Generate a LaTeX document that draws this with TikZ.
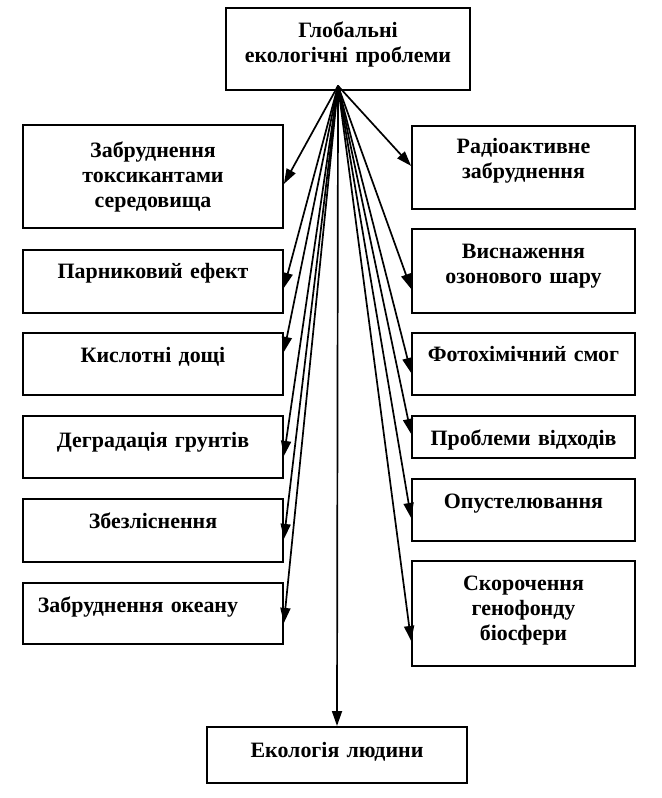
\documentclass[tikz,border=0pt]{standalone}
\usepackage{fontspec}
\setmainfont{Liberation Serif}
\usetikzlibrary{arrows.meta}

\begin{document}
\begin{tikzpicture}[x=1bp, y=-1bp,
  box/.style={draw, line width=1.8bp, anchor=north, inner sep=0pt, align=center,
    font=\fontsize{22}{25}\selectfont\bfseries},
  lbox/.style={box, text width=260bp},
  rbox/.style={box, text width=223bp},
  arr/.style={line width=1.7bp, -{Triangle[length=15bp,width=10bp]}}]
  \useasboundingbox (0,0) rectangle (662,798);

  % top box and the point all arrows start from
  \node[box, text width=244bp, text height=30bp, text depth=52bp] (glob) at (348,7)
    {Глобальні\\екологічні проблеми};
  \coordinate (hub) at ([xshift=-10bp, yshift=5bp]glob.south);

  % left column
  \node[lbox, text height=33bp, text depth=70bp] (tox) at (153,124)
    {Забруднення\\токсикантами\\середовища};
  \node[lbox, text height=29bp, text depth=34bp] (parn) at (153,249) {Парниковий ефект};
  \node[lbox, text height=30bp, text depth=32bp] (kysl) at (153,332) {Кислотні дощі};
  \node[lbox, text height=32bp, text depth=30bp] (degr) at (153,415) {Деградація грунтів};
  \node[lbox, text height=30bp, text depth=33bp] (lis) at (153,498) {Збезліснення};
  \node[lbox, text height=30bp, text depth=31bp] (okean) at (153,582)
    {\hspace*{-30bp}Забруднення океану};

  % right column
  \node[rbox, text height=28bp, text depth=55bp] (rad) at (523.5,125)
    {Радіоактивне\\забруднення};
  \node[rbox, text height=30bp, text depth=54bp] (ozon) at (523.5,228)
    {Виснаження\\озонового шару};
  \node[rbox, text height=29bp, text depth=33bp] (smog) at (523.5,332) {Фотохімічний смог};
  \node[rbox, text height=30bp, text depth=12bp] (vidh) at (523.5,415) {Проблеми відходів};
  \node[rbox, text height=30bp, text depth=32bp] (pust) at (523.5,478) {Опустелювання};
  \node[rbox, text height=30bp, text depth=75bp] (gen) at (523.5,560)
    {Скорочення\\генофонду\\біосфери};

  % bottom box
  \node[lbox, text height=31bp, text depth=25bp] (lud) at (337,726) {Екологія людини};

  % arrows to the left
  \draw[arr] (hub) -- ([yshift=-7.5bp]tox.east);
  \draw[arr] (hub) -- ([yshift=-6.5bp]parn.east);
  \draw[arr] (hub) -- ([yshift=12bp]kysl.east);
  \draw[arr] (hub) -- ([yshift=-9bp]degr.east);
  \draw[arr] (hub) -- ([yshift=-8.5bp]lis.east);
  \draw[arr] (hub) -- ([yshift=-9.5bp]okean.east);

  % arrows to the right
  \draw[arr] (hub) -- ([yshift=1.5bp]rad.west);
  \draw[arr] (hub) -- ([yshift=-18bp]ozon.west);
  \draw[arr] (hub) -- ([yshift=-9bp]smog.west);
  \draw[arr] (hub) -- ([yshift=3bp]vidh.west);
  \draw[arr] (hub) -- ([yshift=-8bp]pust.west);
  \draw[arr] (hub) -- ([yshift=-27.5bp]gen.west);

  % down to the bottom box
  \draw[arr] (hub) -- (lud.north);
\end{tikzpicture}
\end{document}
